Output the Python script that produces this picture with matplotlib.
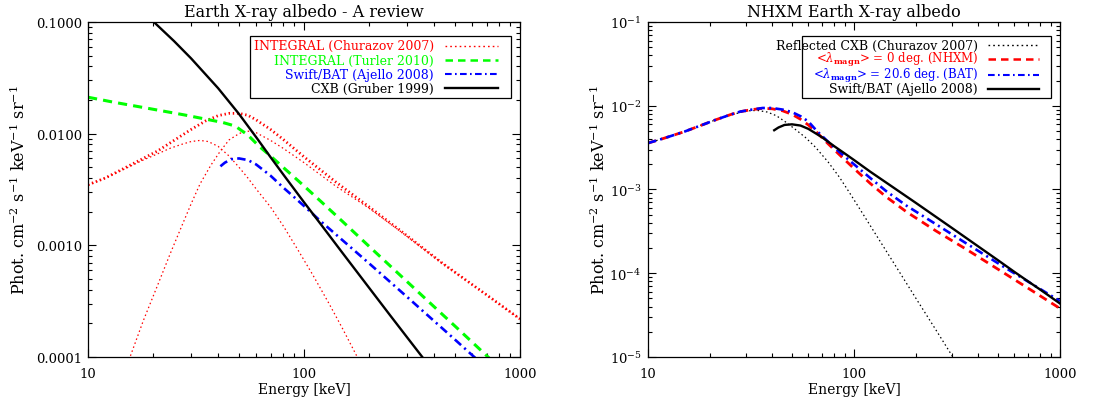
import matplotlib
matplotlib.use("Agg")
import matplotlib.pyplot as plt
from matplotlib.ticker import LogLocator, NullFormatter

plt.rcParams['font.family'] = ['DejaVu Serif']
plt.rcParams['mathtext.fontset'] = 'dejavuserif'

# ---------------- left panel: literature spectra ----------------
# CXB (Gruber 1999)
cxb_e = [18, 20, 25, 30, 40, 50, 60, 70, 80, 100, 120, 150, 200, 250, 300, 350, 400]
cxb_f = [0.122, 0.1015, 0.0675, 0.0472, 0.02555, 0.0150, 0.00931, 0.00615, 0.00433,
         0.00243, 0.00153, 0.000865, 0.000417, 0.000237, 0.00015, 0.000102, 0.0000727]

# INTEGRAL albedo (Churazov 2007): total, reflected CXB, atmospheric emission
chu_tot_e = [10, 12, 15, 18, 21, 25, 30, 35, 40, 45, 50, 55, 60, 70, 80, 100, 140,
             200, 280, 440, 700, 1000]
chu_tot_f = [0.00349, 0.0040, 0.0050, 0.0060, 0.0070, 0.0087, 0.0109, 0.0130, 0.0145,
             0.0152, 0.0152, 0.0146, 0.0133, 0.0109, 0.0089, 0.0062, 0.0037, 0.00221,
             0.00135, 0.000685, 0.00036, 0.000219]
chu_refl_e = [10, 12, 15, 18, 21, 24, 27, 30, 33, 36, 40, 45, 50, 55, 60, 70, 80, 95,
              110, 130, 150, 175, 190]
chu_refl_f = [0.00345, 0.0040, 0.0049, 0.0058, 0.0066, 0.0074, 0.0080, 0.0085, 0.0087,
              0.0085, 0.0077, 0.0063, 0.0050, 0.0040, 0.0032, 0.0022, 0.0015, 0.00087,
              0.00054, 0.000305, 0.000183, 0.000103, 0.000075]
chu_atm_e = [15, 18, 21, 24, 27, 30, 33, 37, 41, 45, 50, 54, 60, 70, 80, 100, 140, 200,
             280, 440, 700, 1000]
chu_atm_f = [0.00008, 0.00021, 0.00044, 0.00084, 0.00145, 0.00235, 0.00355, 0.0052,
             0.0070, 0.0088, 0.0100, 0.0106, 0.0102, 0.0087, 0.0074, 0.0055, 0.0034,
             0.00215, 0.00133, 0.000682, 0.00036, 0.000219]

# INTEGRAL (Turler 2010)
tur_e = [10, 13, 17, 22, 28, 35, 42, 48, 55, 62, 70, 80, 100, 120, 150, 200, 300, 400,
         500, 600, 711, 760]
tur_f = [0.0212, 0.0192, 0.0175, 0.0160, 0.0147, 0.0135, 0.0126, 0.0117, 0.0097, 0.0077,
         0.0063, 0.0050, 0.0034, 0.00246, 0.00165, 0.00098, 0.000473, 0.000282,
         0.000189, 0.000136, 0.0001, 0.0000887]

# Swift/BAT (Ajello 2008), used in both panels
bat_e = [41, 43, 46, 50, 55, 60, 70, 80, 90, 100, 120, 150, 200, 300, 400, 500, 600,
         700, 800, 1000]
bat_f = [0.0051, 0.0055, 0.0059, 0.0060, 0.0058, 0.0053, 0.0042, 0.0033, 0.0027,
         0.00225, 0.00163, 0.00112, 0.00069, 0.000345, 0.00021, 0.000143, 0.000104,
         0.00008, 0.000064, 0.0000435]

# ---------------- right panel: NHXM albedo ----------------
refl_e = [10, 12, 15, 18, 21, 25, 28, 31, 34, 38, 42, 47, 52, 58, 65, 75, 85, 95, 110,
          130, 160, 200, 250, 302, 330]
refl_f = [0.00358, 0.0041, 0.0049, 0.0058, 0.0067, 0.0077, 0.0083, 0.0087, 0.0088,
          0.0084, 0.0076, 0.0063, 0.0052, 0.0042, 0.0032, 0.00212, 0.0014, 0.00092,
          0.00052, 0.00027, 0.00012, 0.00005, 0.000021, 0.00001, 0.0000071]

nhxm_e = [10, 12, 15, 18, 21, 25, 28, 32, 36, 40, 45, 50, 55, 60, 66, 75, 85, 100, 120,
          143, 180, 250, 350, 537, 700, 1000]
lam0_f = [0.00358, 0.0041, 0.0049, 0.0058, 0.0067, 0.0078, 0.0085, 0.0090, 0.0093,
          0.0092, 0.0087, 0.0079, 0.0069, 0.0059, 0.0048, 0.0035, 0.0026, 0.00178,
          0.00118, 0.00082, 0.00054, 0.00032, 0.000194, 0.0001, 0.0000663, 0.000038]
lam21_f = [0.00358, 0.0041, 0.0049, 0.0058, 0.0067, 0.0078, 0.0085, 0.0090, 0.0094,
           0.0094, 0.0090, 0.0084, 0.0075, 0.0065, 0.0050, 0.0037, 0.0028, 0.0020,
           0.00137, 0.00096, 0.00064, 0.000385, 0.000228, 0.000118, 0.0000794,
           0.0000465]

left_yticks = [1e-4, 1e-3, 1e-2, 1e-1]
left_ylabels = ['0.0001', '0.0010', '0.0100', '0.1000']
xticks = [10, 100, 1000]
xlabels = ['10', '100', '1000']

RED, GREEN, BLUE = '#ff0000', '#00ff00', '#0000ff'
DOT_THICK = (0, (0.5, 1.0))
DOT_THIN = (0, (1.2, 2.2))
DASH = (0, (3, 2))
DASHDOT = (0, (3.2, 1.6, 0.8, 1.6))

ylab = r'Phot. cm$^{-2}$ s$^{-1}$ keV$^{-1}$ sr$^{-1}$'

fig = plt.figure(figsize=(11.09, 4.02), dpi=100)
ax1 = fig.add_axes([0.0794, 0.1095, 0.3895, 0.8333])
ax2 = fig.add_axes([0.5843, 0.1095, 0.3715, 0.8333])


def style_axes(ax):
    ax.set_xscale('log')
    ax.set_yscale('log')
    ax.set_xlim(10, 1000)
    ax.set_xticks(xticks, labels=xlabels)
    ax.xaxis.set_minor_locator(LogLocator(base=10, subs=range(2, 10)))
    ax.xaxis.set_minor_formatter(NullFormatter())
    ax.yaxis.set_minor_locator(LogLocator(base=10, subs=range(2, 10), numticks=20))
    ax.yaxis.set_minor_formatter(NullFormatter())
    ax.tick_params(which='both', direction='in', top=True, right=True,
                   width=0.8, labelsize=9.5)
    ax.tick_params(which='major', length=6)
    ax.tick_params(which='minor', length=3)
    ax.tick_params(axis='x', pad=7)
    ax.tick_params(axis='y', pad=4.5)
    for sp in ax.spines.values():
        sp.set_linewidth(0.9)
    ax.set_xlabel('Energy [keV]', fontsize=10)
    ax.xaxis.set_label_coords(0.5, -0.075)
    ax.set_ylabel(ylab, fontsize=11.5)


def draw_key(ax, entries, rows, sizes):
    # boxed key: right-aligned labels followed by a line sample
    ax.add_patch(plt.Rectangle((0.375, 0.772), 0.603, 0.187, transform=ax.transAxes,
                               facecolor='white', edgecolor='black', lw=0.9, zorder=5))
    for y, fs, (label, color, ls, lw) in zip(rows, sizes, entries):
        ax.text(0.801, y, label, color=color, fontsize=fs, ha='right', va='center',
                transform=ax.transAxes, zorder=6)
        ax.plot([0.826, 0.948], [y, y], color=color, ls=ls, lw=lw,
                transform=ax.transAxes, zorder=6)


# ---- left panel ----
style_axes(ax1)
ax1.set_ylim(1e-4, 0.1)
ax1.set_yticks(left_yticks, labels=left_ylabels)
ax1.yaxis.set_label_coords(-0.137, 0.5)
ax1.set_title('Earth X-ray albedo - A review', fontsize=11.5, pad=4)

ax1.plot(chu_tot_e, chu_tot_f, color=RED, ls=DOT_THICK, lw=2.0)
ax1.plot(chu_refl_e, chu_refl_f, color=RED, ls=DOT_THIN, lw=0.9)
ax1.plot(chu_atm_e, chu_atm_f, color=RED, ls=DOT_THIN, lw=0.9)
ax1.plot(tur_e, tur_f, color=GREEN, ls=DASH, lw=2.2)
ax1.plot(bat_e, bat_f, color=BLUE, ls=DASHDOT, lw=1.9)
ax1.plot(cxb_e, cxb_f, color='black', lw=1.7)

draw_key(ax1, [
    ('INTEGRAL (Churazov 2007)', RED, DOT_THIN, 1.0),
    ('INTEGRAL (Turler 2010)', GREEN, DASH, 1.8),
    ('Swift/BAT (Ajello 2008)', BLUE, DASHDOT, 1.5),
    ('CXB (Gruber 1999)', 'black', '-', 1.7),
], rows=[0.929, 0.886, 0.844, 0.802], sizes=[9, 9, 9, 9])

# ---- right panel ----
style_axes(ax2)
ax2.set_ylim(1e-5, 0.1)
ax2.yaxis.set_major_locator(LogLocator(base=10, numticks=10))
ax2.yaxis.set_label_coords(-0.094, 0.5)
ax2.set_title('NHXM Earth X-ray albedo', fontsize=11.5, pad=4)

ax2.plot(refl_e, refl_f, color='black', ls=DOT_THIN, lw=0.9)
ax2.plot(nhxm_e, lam0_f, color=RED, ls=DASH, lw=2.0)
ax2.plot(nhxm_e, lam21_f, color=BLUE, ls=DASHDOT, lw=1.9)
ax2.plot(bat_e, bat_f, color='black', lw=1.7)

draw_key(ax2, [
    ('Reflected CXB (Churazov 2007)', 'black', DOT_THIN, 1.0),
    (r'<$\lambda_{\mathbf{magn}}$> = 0 deg. (NHXM)', RED, DASH, 1.8),
    (r'<$\lambda_{\mathbf{magn}}$> = 20.6 deg. (BAT)', BLUE, DASHDOT, 1.5),
    ('Swift/BAT (Ajello 2008)', 'black', '-', 1.7),
], rows=[0.930, 0.889, 0.841, 0.801], sizes=[9, 8.5, 8.5, 9])

fig.savefig('out.png', dpi=100)
